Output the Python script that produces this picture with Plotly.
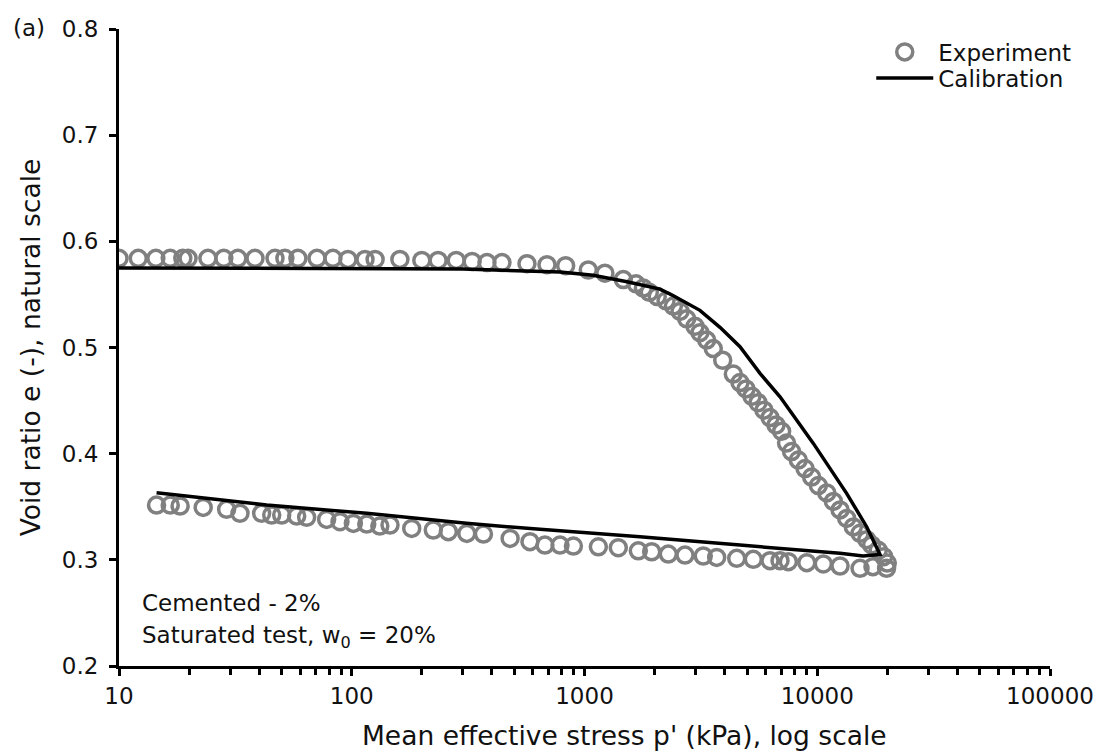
import plotly.graph_objects as go

# ---------------- data ----------------
exp_load_p = [10, 12.1, 14.4, 16.6, 18.8, 19.8, 24.1, 28.2, 32.4, 38.4, 46.8, 51.6, 58.7, 70.9,
              83, 96.3, 114, 126, 161, 200, 235, 281, 329, 381, 442, 566, 690, 830,
              1038, 1224, 1468, 1665, 1790, 1899, 2054, 2240, 2409, 2573, 2748, 2985,
              3133, 3349, 3575, 3925, 4359, 4656, 4940, 5243, 5564, 5904, 6266, 6650,
              7030, 7380, 7755, 8290, 8860, 9460, 10110, 10990, 11730, 12530, 13380,
              14290, 15270, 16310, 17130, 18290, 19300, 20000]
exp_load_e = [0.584, 0.584, 0.584, 0.584, 0.584, 0.584, 0.584, 0.584, 0.584, 0.584, 0.584, 0.584,
              0.584, 0.584, 0.584, 0.583, 0.583, 0.583, 0.583, 0.582, 0.582, 0.582, 0.581, 0.580,
              0.580, 0.579, 0.578, 0.577, 0.573, 0.570, 0.564, 0.560, 0.556, 0.552, 0.548, 0.544,
              0.539, 0.534, 0.527, 0.520, 0.514, 0.507, 0.499, 0.488, 0.475, 0.467, 0.461, 0.454,
              0.448, 0.441, 0.434, 0.427, 0.421, 0.410, 0.402, 0.394, 0.386, 0.378, 0.370, 0.363,
              0.355, 0.347, 0.339, 0.331, 0.325, 0.319, 0.314, 0.309, 0.303, 0.297]

exp_unload_p = [19850, 17350, 15270, 12530, 10620, 9016, 7515, 6918, 6266, 5312, 4508, 3697,
                3238, 2703, 2291, 1944, 1703, 1397, 1147, 896, 785, 676, 583, 479, 368, 312,
                260, 224, 181, 146, 132, 116, 101.6, 89, 78, 64, 58, 50, 45.3, 41, 33.1, 29,
                23, 18.3, 16.6, 14.5]
exp_unload_e = [0.292, 0.2936, 0.292, 0.2942, 0.2961, 0.2973, 0.2983, 0.2992, 0.2992, 0.3005,
                0.3014, 0.3023, 0.3036, 0.3045, 0.3054, 0.3076, 0.3085, 0.3114, 0.3123, 0.3130,
                0.3139, 0.3139, 0.3171, 0.3202, 0.3243, 0.3249, 0.3265, 0.3281, 0.3296, 0.3328,
                0.3318, 0.3337, 0.3343, 0.3359, 0.3381, 0.3400, 0.3412, 0.3422, 0.3422, 0.3438,
                0.3438, 0.3476, 0.3494, 0.3507, 0.3516, 0.3516]

cal_p = [10, 100, 300, 786, 1089, 1524, 2111, 2399, 3133, 3820, 4656, 5676, 6920, 9620,
         13370, 16300, 17990, 18600, 15740, 12530, 4656, 1730, 644, 311, 116, 43.1, 14.5]
cal_e = [0.575, 0.5745, 0.574, 0.571, 0.568, 0.562, 0.555, 0.549, 0.535, 0.519, 0.5007,
         0.4756, 0.4536, 0.4097, 0.3626, 0.3312, 0.3123, 0.305, 0.3036, 0.3061, 0.3139,
         0.3218, 0.3287, 0.3344, 0.3438, 0.3516, 0.3632]

x_tick_vals = [10, 100, 1000, 10000, 100000]
x_tick_text = ["10", "100", "1000", "10000", "100000"]
x_minor_vals = [m * d for d in (10, 100, 1000, 10000) for m in range(2, 10)]
y_tick_vals = [0.2, 0.3, 0.4, 0.5, 0.6, 0.7, 0.8]

FONT = "DejaVu Sans, Liberation Sans, Arial, sans-serif"
GRAY = "#808080"
TXT = "#111111"

fig = go.Figure()
fig.add_trace(go.Scatter(
    x=exp_load_p + exp_unload_p, y=exp_load_e + exp_unload_e,
    mode="markers", name="Experiment", legend="legend", showlegend=True,
    marker=dict(symbol="circle-open", size=16, color=GRAY, line=dict(width=3.5, color=GRAY)),
))
fig.add_trace(go.Scatter(
    x=cal_p, y=cal_e, mode="lines", name="Calibration", legend="legend2", showlegend=True,
    line=dict(color="black", width=3.5),
))

fig.update_layout(
    width=1103, height=756,
    margin=dict(l=119, r=53, t=29, b=90, autoexpand=False),
    paper_bgcolor="white", plot_bgcolor="white",
    showlegend=True,
    font=dict(family=FONT, color=TXT, size=23),
    legend=dict(x=0.808, y=0.964, xanchor="left", yanchor="middle", visible=True,
                bgcolor="rgba(0,0,0,0)", font=dict(size=23, family=FONT, color=TXT), itemwidth=57),
    legend2=dict(x=0.808, y=0.923, xanchor="left", yanchor="middle", visible=True,
                 bgcolor="rgba(0,0,0,0)", font=dict(size=23, family=FONT, color=TXT), itemwidth=57),
)
fig.update_xaxes(
    type="log", range=[1, 5],
    tickvals=x_tick_vals, ticktext=x_tick_text,
    ticks="outside", ticklen=7, tickwidth=2.5, tickcolor="black",
    minor=dict(tickmode="array", tickvals=x_minor_vals, ticks="outside",
               ticklen=6, tickwidth=2.5, tickcolor="black", showgrid=False),
    showline=True, linecolor="black", linewidth=3,
    showgrid=False, zeroline=False,
    tickfont=dict(size=23, family=FONT, color=TXT),
)
fig.update_yaxes(
    range=[0.2, 0.8], tickvals=y_tick_vals, tickformat=".1f",
    ticks="outside", ticklen=7, tickwidth=2.5, tickcolor="black",
    ticklabelstandoff=6,
    showline=True, linecolor="black", linewidth=3,
    showgrid=False, zeroline=False,
    tickfont=dict(size=23, family=FONT, color=TXT),
    title=dict(text="Void ratio e (-), natural scale", font=dict(size=26.5, family=FONT, color=TXT),
               standoff=14),
)

fig.add_annotation(text="Mean effective stress p' (kPa), log scale", xref="paper", yref="paper",
                   x=(624 - 119) / 931, y=(666 - 735) / 637, xanchor="center", yanchor="middle",
                   showarrow=False, font=dict(size=26.5, family=FONT, color=TXT))
fig.add_annotation(text="(a)", xref="paper", yref="paper",
                   x=(11 - 119) / 931, y=(666 - 28) / 637, xanchor="left", yanchor="middle",
                   showarrow=False, font=dict(size=23, family=FONT, color=TXT))
fig.add_annotation(text="Cemented - 2%", xref="paper", yref="paper",
                   x=(140 - 119) / 931, y=(666 - 603) / 637, xanchor="left", yanchor="middle",
                   showarrow=False, font=dict(size=23, family=FONT, color=TXT))
fig.add_annotation(text="Saturated test, w<sub>0</sub> = 20%", xref="paper", yref="paper",
                   x=(140 - 119) / 931, y=(666 - 637) / 637, xanchor="left", yanchor="middle",
                   showarrow=False, font=dict(size=23, family=FONT, color=TXT))

fig.write_html("out.html")
